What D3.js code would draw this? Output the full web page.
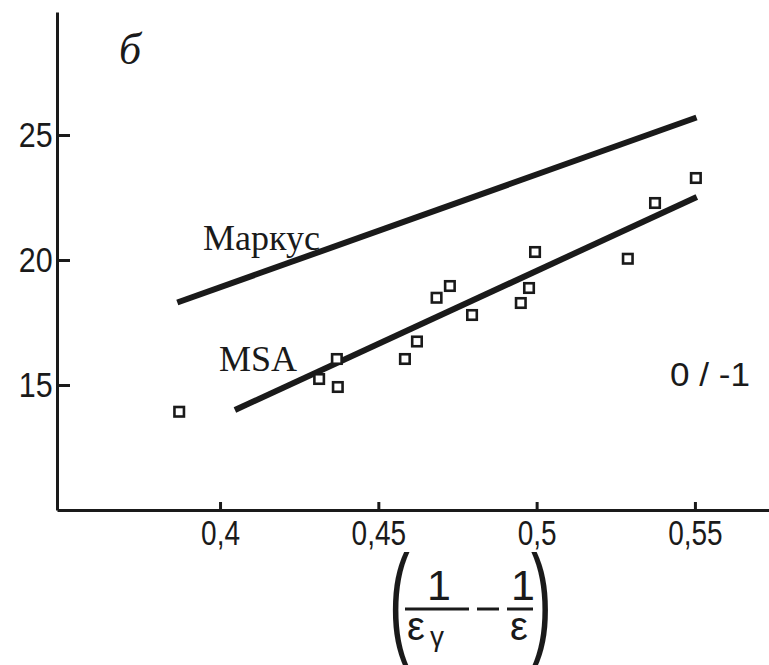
<!DOCTYPE html>
<html>
<head>
<meta charset="utf-8">
<script src="https://cdn.jsdelivr.net/npm/d3@7"></script>
<style>
  body { margin: 0; background: #fff; }
  svg { display: block; }
  .axis path, .axis line { stroke: #1a1a1a; stroke-width: 3; }
  .axis text { fill: #1a1a1a; font-family: "Liberation Sans", Arial, sans-serif; font-size: 35px; }
  .lbl { fill: #1a1a1a; font-family: "Liberation Serif", "Times New Roman", serif; font-size: 36px; }
  .frm { fill: #1a1a1a; font-family: "Liberation Sans", Arial, sans-serif; }
</style>
</head>
<body>
<div id="chart"></div>
<script>
// measured points (x = 1/eps_y - 1/eps, y = value)
var pointX = [0.3871, 0.4313, 0.4369, 0.4372, 0.4584, 0.4622, 0.4684, 0.4726, 0.4796, 0.4950, 0.4976, 0.4995, 0.5288, 0.5374, 0.5503];
var pointY = [13.93, 15.24, 16.04, 14.92, 16.04, 16.74, 18.49, 18.96, 17.80, 18.28, 18.88, 20.32, 20.05, 22.28, 23.28];

// theory lines, end points
var markusX = [0.3865, 0.5505];
var markusY = [18.30, 25.70];
var msaX = [0.4047, 0.5506];
var msaY = [14.00, 22.52];

var xTicks = [0.4, 0.45, 0.5, 0.55];
var xTickLabels = ["0,4", "0,45", "0,5", "0,55"];
var yTicks = [15, 20, 25];

var width = 769, height = 665;

var x = d3.scaleLinear().domain([0.3485, 0.5734]).range([57, 769]);
var y = d3.scaleLinear().domain([10, 29.92]).range([510, 12]);

var svg = d3.select("#chart").append("svg")
    .attr("width", width).attr("height", height);

// axes, ticks point inward
var xAxis = d3.axisBottom(x).tickValues(xTicks)
    .tickFormat(function(d, i){ return xTickLabels[i]; })
    .tickSizeInner(-8).tickSizeOuter(0).tickPadding(10);
var gx = svg.append("g").attr("class", "axis")
    .attr("transform", "translate(0," + y(10) + ")").call(xAxis);
gx.selectAll("text").attr("transform", "scale(0.8,1)");

var yAxis = d3.axisLeft(y).tickValues(yTicks)
    .tickSizeInner(-13).tickSizeOuter(0).tickPadding(5);
var gy = svg.append("g").attr("class", "axis")
    .attr("transform", "translate(" + x.range()[0] + ",0)").call(yAxis);
gy.selectAll("text").attr("transform", "scale(0.87,1)");

// lines
var line = d3.line().x(function(d){ return x(d[0]); }).y(function(d){ return y(d[1]); });
svg.append("path").datum(d3.zip(markusX, markusY))
    .attr("d", line).attr("stroke", "#1a1a1a").attr("stroke-width", 6).attr("fill", "none");
svg.append("path").datum(d3.zip(msaX, msaY))
    .attr("d", line).attr("stroke", "#1a1a1a").attr("stroke-width", 6).attr("fill", "none");

// square markers
var s = 9.5;
svg.selectAll(".pt").data(d3.zip(pointX, pointY)).enter().append("rect")
    .attr("class", "pt")
    .attr("x", function(d){ return x(d[0]) - s / 2; })
    .attr("y", function(d){ return y(d[1]) - s / 2; })
    .attr("width", s).attr("height", s)
    .attr("fill", "#fff").attr("stroke", "#1a1a1a").attr("stroke-width", 2.6);

// labels
svg.append("text").attr("class", "lbl").attr("x", 203).attr("y", 250).text("Маркус");
svg.append("text").attr("class", "lbl").attr("x", 219).attr("y", 371).text("MSA");
svg.append("text").attr("class", "lbl").attr("x", 119).attr("y", 64)
    .style("font-style", "italic").style("font-size", "44px").text("б");
svg.append("text").attr("class", "frm").attr("x", 670).attr("y", 386)
    .style("font-size", "33px").attr("textLength", 80).attr("lengthAdjust", "spacingAndGlyphs").text("0 / -1");

// x axis title: (1/ε_γ - 1/ε)
var f = svg.append("g");
f.append("text").attr("class", "frm").attr("x", 389 / 0.5).attr("y", 642)
    .attr("transform", "scale(0.5,1)").style("font-size", "125px").text("(");
f.append("text").attr("class", "frm").attr("x", 531 / 0.5).attr("y", 642)
    .attr("transform", "scale(0.5,1)").style("font-size", "125px").text(")");
f.append("text").attr("class", "frm").attr("x", 439).attr("y", 600)
    .attr("text-anchor", "middle").style("font-size", "43px").text("1");
f.append("text").attr("class", "frm").attr("x", 523).attr("y", 600)
    .attr("text-anchor", "middle").style("font-size", "43px").text("1");
f.append("line").attr("x1", 405).attr("x2", 469).attr("y1", 609).attr("y2", 609)
    .attr("stroke", "#1a1a1a").attr("stroke-width", 3);
f.append("line").attr("x1", 477).attr("x2", 499).attr("y1", 609).attr("y2", 609)
    .attr("stroke", "#1a1a1a").attr("stroke-width", 3);
f.append("line").attr("x1", 507).attr("x2", 533).attr("y1", 609).attr("y2", 609)
    .attr("stroke", "#1a1a1a").attr("stroke-width", 3);
f.append("text").attr("class", "frm").attr("x", 407).attr("y", 640)
    .style("font-size", "40px").text("ε");
f.append("text").attr("class", "frm").attr("x", 430).attr("y", 646)
    .style("font-size", "28px").text("γ");
f.append("text").attr("class", "frm").attr("x", 510).attr("y", 640)
    .style("font-size", "40px").text("ε");
</script>
</body>
</html>
